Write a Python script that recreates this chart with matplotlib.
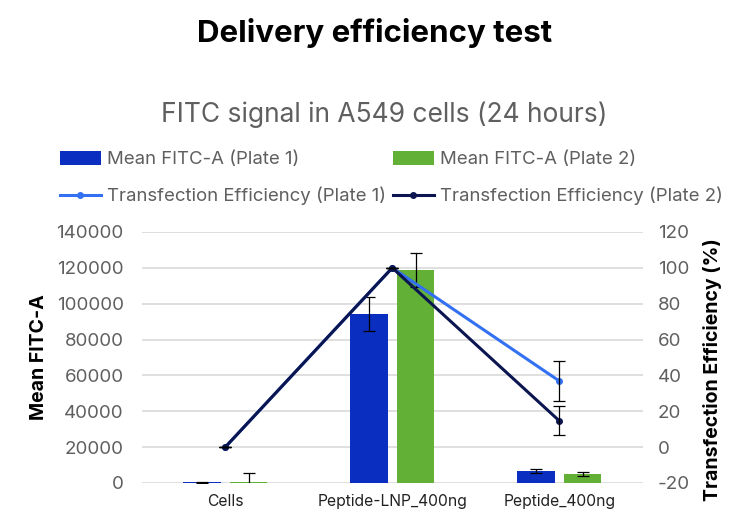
import matplotlib
matplotlib.use('Agg')

import matplotlib.pyplot as plt
import numpy as np

# data
categories = ['Cells', 'Peptide-LNP_400ng', 'Peptide_400ng']
fitc_plate1 = [400, 94300, 6700]
fitc_plate1_err = [200, 9400, 1000]
fitc_plate2 = [800, 118800, 5000]
fitc_plate2_err = [4500, 9300, 1000]
eff_plate1 = [0, 100, 36.9]
eff_plate1_err = [0, 0, 11.2]
eff_plate2 = [0, 100, 14.7]
eff_plate2_err = [0, 0, 8.2]

plt.rcParams['font.family'] = ['Inter', 'DejaVu Sans']
plt.rcParams['axes.unicode_minus'] = False

fig = plt.figure(figsize=(7.5, 5.27), dpi=100)
ax = fig.add_axes([0.189, 0.0835, 0.668, 0.4763])
ax2 = ax.twinx()

x = np.arange(len(categories))
w = 0.225
ax.bar(x - 0.14, fitc_plate1, w, color='#0A2EBF', label='Mean FITC-A (Plate 1)', zorder=3)
ax.bar(x + 0.14, fitc_plate2, w, color='#62B036', label='Mean FITC-A (Plate 2)', zorder=3)
ax.errorbar(x - 0.14, fitc_plate1, yerr=fitc_plate1_err, fmt='none', ecolor='black',
            elinewidth=0.9, capsize=4, capthick=0.9, zorder=4)
ax.errorbar(x + 0.14, fitc_plate2, yerr=fitc_plate2_err, fmt='none', ecolor='black',
            elinewidth=0.9, capsize=4, capthick=0.9, zorder=4)

l1, = ax2.plot(x, eff_plate1, color='#3371F2', lw=2.2, marker='o', ms=4,
               label='Transfection Efficiency (Plate 1)', zorder=5)
ax2.errorbar(x, eff_plate1, yerr=eff_plate1_err, fmt='none', ecolor='black',
             elinewidth=0.9, capsize=4, capthick=0.9, zorder=6)
l2, = ax2.plot(x, eff_plate2, color='#0B1650', lw=2.2, marker='o', ms=4,
               label='Transfection Efficiency (Plate 2)', zorder=5)
ax2.errorbar(x, eff_plate2, yerr=eff_plate2_err, fmt='none', ecolor='black',
             elinewidth=0.9, capsize=4, capthick=0.9, zorder=6)

ax.set_xlim(-0.5, 2.5)
ax.set_ylim(0, 140000)
ax.set_yticks(np.arange(0, 140001, 20000))
ax2.set_ylim(-20, 120)
ax2.set_yticks(np.arange(-20, 121, 20))
ax.set_xticks(x)
ax.set_xticklabels(categories)

ax.grid(axis='y', color='#d9d9d9', lw=1.2, zorder=0)
ax.set_axisbelow(True)
for a in (ax, ax2):
    for s in a.spines.values():
        s.set_visible(False)
    a.tick_params(length=0, labelsize=13.5, colors='#5f5f5f')
ax.tick_params(axis='x', colors='#222222', labelsize=11.3, pad=8)
ax.tick_params(axis='y', pad=13)
ax2.tick_params(axis='y', pad=11)

ax.set_ylabel('Mean FITC-A', fontsize=14, fontweight='bold')
ax.yaxis.set_label_coords(-0.188, 0.5)
ax2.set_ylabel('Transfection Efficiency (%)', fontsize=14, fontweight='bold')
ax2.yaxis.set_label_coords(1.12, 0.45)

fig.text(0.5, 0.937, 'Delivery efficiency test', ha='center', va='center',
         fontsize=22.5, fontweight='bold')
fig.text(0.512, 0.783, 'FITC signal in A549 cells (24 hours)', ha='center', va='center',
         fontsize=19, color='#5f5f5f')

h, lab = ax.get_legend_handles_labels()
handles = [h[0], l1, h[1], l2]
labels = [lab[0], l1.get_label(), lab[1], l2.get_label()]
fig.legend(handles, labels, ncol=2, loc='center', bbox_to_anchor=(0.522, 0.662),
           frameon=False, fontsize=13.4, labelcolor='#5f5f5f', handlelength=2.2,
           handleheight=0.8, columnspacing=0.35, handletextpad=0.35, labelspacing=1.0)

fig.savefig('out.png', dpi=100)
